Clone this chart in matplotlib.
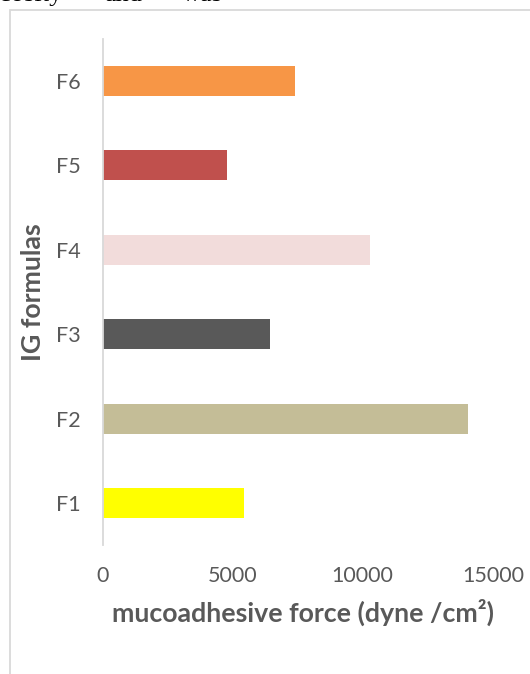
import matplotlib
matplotlib.use("Agg")
import matplotlib.pyplot as plt
from matplotlib.patches import Rectangle

# Mucoadhesive force of the in-situ gel formulas
formulas = ["F1", "F2", "F3", "F4", "F5", "F6"]
force = [5430, 14050, 6440, 10280, 4790, 7400]
bar_colors = ["#FFFF00", "#C4BD97", "#595959", "#F2DCDB", "#C0504D", "#F79646"]
x_ticks = [0, 5000, 10000, 15000]

W, H, DPI = 530, 674, 100
fig = plt.figure(figsize=(W / DPI, H / DPI), dpi=DPI)
fig.patch.set_facecolor("white")

plt.rcParams["font.family"] = ["Lato", "DejaVu Sans"]
text_gray = "#595959"
line_gray = "#D9D9D9"

# Chart-area border (runs off the right and bottom edges)
fig.add_artist(Rectangle((10 / W, -0.1), 1.2, (H - 10) / H + 0.1,
                         transform=fig.transFigure, fill=False,
                         edgecolor=line_gray, linewidth=1.3))

# Surrounding document text at the top edge (only its lower part is on the page)
for word, xpx in [("viscosity", 62), ("and", 142), ("was", 223)]:
    fig.text(xpx / W, 1 - 0.8 / H, word, ha="right", va="baseline",
             fontsize=19, family="Liberation Serif", color="black")

ax = fig.add_axes([102.5 / W, 1 - 545.2 / H, (492.8 - 102.5) / W, (545.2 - 38.8) / H])
ypos = list(range(len(formulas)))
ax.barh(ypos, force, height=0.355, color=bar_colors)

ax.set_xlim(0, 15000)
ax.set_ylim(-0.5, len(formulas) - 0.5)
ax.set_xticks(x_ticks)
ax.set_xticklabels([str(t) for t in x_ticks])
ax.set_yticks(ypos)
ax.set_yticklabels(formulas)
ax.tick_params(axis="both", length=0, labelsize=15.5, colors=text_gray)
ax.tick_params(axis="x", pad=15)
ax.tick_params(axis="y", pad=16)

for side in ["top", "right", "bottom"]:
    ax.spines[side].set_visible(False)
ax.spines["left"].set_color(line_gray)
ax.spines["left"].set_linewidth(1.3)

ax.set_xlabel("mucoadhesive force (dyne /cm²)", fontsize=19.3, fontweight="bold",
              color=text_gray, va="center")
ax.xaxis.set_label_coords((303.5 - 102.5) / 390.3, (545.2 - 612) / 506.4)
ax.set_ylabel("IG formulas", fontsize=19.3, fontweight="bold", color=text_gray,
              va="center")
ax.yaxis.set_label_coords((33 - 102.5) / 390.3, 0.5)

fig.savefig("out.png", dpi=DPI, facecolor="white")
